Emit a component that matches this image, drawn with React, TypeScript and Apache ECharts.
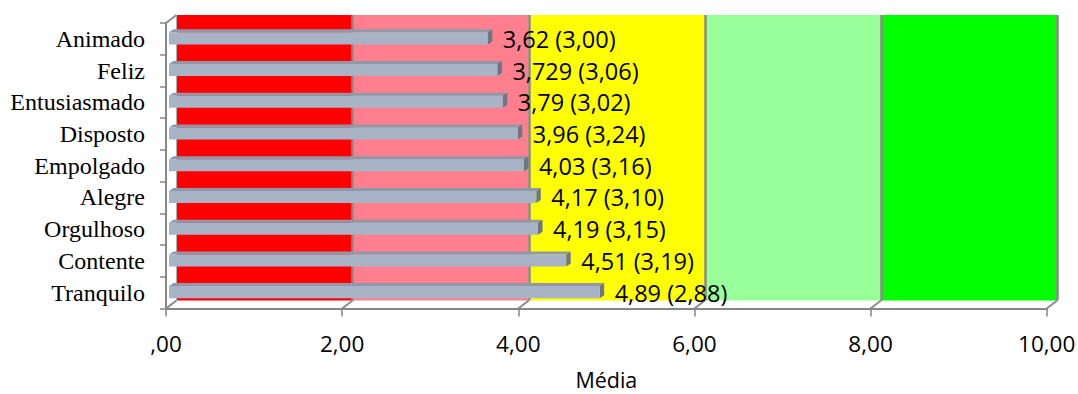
import React, { useEffect, useRef } from "react";
import * as echarts from "echarts";

const categories = ["Animado", "Feliz", "Entusiasmado", "Disposto", "Empolgado", "Alegre", "Orgulhoso", "Contente", "Tranquilo"];
const means = [3.62, 3.729, 3.79, 3.96, 4.03, 4.17, 4.19, 4.51, 4.89];
const sds = [3.0, 3.06, 3.02, 3.24, 3.16, 3.1, 3.15, 3.19, 2.88];
const xTicks = [0, 2, 4, 6, 8, 10];
const bands = [
  { from: 0, to: 2, color: "#FF0000" },
  { from: 2, to: 4, color: "#FF7F8E" },
  { from: 4, to: 6, color: "#FFFF00" },
  { from: 6, to: 8, color: "#99FF99" },
  { from: 8, to: 10, color: "#00FF00" },
];

const W = 1078;
const H = 394;
const FRONT = { left: 166, top: 23, width: 880.7, height: 285.5 };
const DX = 10.5;
const DY = 8;
const AXIS_GRAY = "#868686";

const fmt = (v: number) => (v === 0 ? ",00" : v.toFixed(2).replace(".", ","));

export default function App() {
  const ref = useRef<HTMLDivElement>(null);
  useEffect(() => {
    if (!ref.current) return;
    const chart = echarts.init(ref.current, null, { renderer: "svg" });
    const backGrid = {
      left: FRONT.left + DX,
      top: FRONT.top - DY,
      width: FRONT.width,
      height: FRONT.height,
      containLabel: false,
      outerBoundsMode: "none",
    };
    const option: any = {
      animation: false,
      backgroundColor: "#FFFFFF",
      grid: [
        {
          left: FRONT.left,
          top: FRONT.top,
          width: FRONT.width,
          height: FRONT.height,
          containLabel: false,
          outerBoundsMode: "none",
        },
        backGrid,
      ],
      xAxis: [
        {
          type: "value",
          gridIndex: 0,
          min: 0,
          max: 10,
          interval: 2,
          axisLine: { show: true, lineStyle: { color: AXIS_GRAY, width: 2 } },
          axisTick: { show: true, length: 8, lineStyle: { color: AXIS_GRAY, width: 1.5 } },
          splitLine: { show: false },
          axisLabel: {
            formatter: fmt,
            fontFamily: "Open Sans",
            fontSize: 22.5,
            color: "#000",
            margin: 23,
            showMinLabel: true,
            showMaxLabel: true,
          },
          name: "Média",
          nameLocation: "middle",
          nameGap: 61,
          nameTextStyle: { fontFamily: "Open Sans", fontSize: 21.5, lineHeight: 20, color: "#000" },
          z: 5,
        },
        {
          type: "value",
          gridIndex: 1,
          min: 0,
          max: 10,
          interval: 2,
          axisLine: { show: false },
          axisTick: { show: false },
          axisLabel: { show: false },
          splitLine: { show: true, showMinLine: false, lineStyle: { color: "#8A8A8A", width: 2.5 } },
          z: 3,
        },
      ],
      yAxis: [
        {
          type: "category",
          gridIndex: 0,
          data: categories,
          inverse: true,
          axisLine: { show: true, lineStyle: { color: AXIS_GRAY, width: 2 } },
          axisTick: { show: true, length: 6, interval: 0, alignWithLabel: false, lineStyle: { color: AXIS_GRAY, width: 1.5 } },
          axisLabel: {
            interval: 0,
            fontFamily: "Liberation Serif",
            fontSize: 24,
            color: "#000",
            margin: 21,
          },
          splitLine: { show: false },
          z: 5,
        },
        {
          type: "value",
          gridIndex: 1,
          min: 0,
          max: 1,
          show: false,
        },
      ],
      series: [
        {
          type: "line",
          xAxisIndex: 1,
          yAxisIndex: 1,
          data: [],
          z: 1,
          markArea: {
            silent: true,
            data: bands.map((b) => [
              { xAxis: b.from, itemStyle: { color: b.color } },
              { xAxis: b.to },
            ]),
          },
        },
        {
          type: "custom",
          xAxisIndex: 0,
          yAxisIndex: 0,
          z: 4,
          silent: true,
          data: xTicks.map((t) => [t, 0]),
          renderItem: (params: any, api: any) => {
            const cs = params.coordSys;
            const t = api.value(0);
            const px = api.coord([t, 0])[0];
            const yb = cs.y + cs.height;
            const children: any[] = [
              {
                type: "polyline",
                shape: { points: [[px, yb], [px + DX, yb - DY]] },
                style: { stroke: "#8A8A8A", lineWidth: 2, fill: null },
              },
            ];
            if (params.dataIndex === 0) {
              children.push({
                type: "polyline",
                shape: { points: [[cs.x, cs.y], [cs.x + DX, cs.y - DY]] },
                style: { stroke: "#8A8A8A", lineWidth: 2, fill: null },
              });
              children.push({
                type: "polyline",
                shape: { points: [[cs.x + DX, cs.y - DY], [cs.x + DX, yb - DY]] },
                style: { stroke: "#B0B0B0", lineWidth: 1, fill: null },
              });
            }
            return { type: "group", children };
          },
        },
        {
          type: "custom",
          xAxisIndex: 0,
          yAxisIndex: 0,
          z: 6,
          data: means.map((m, i) => [m, i, sds[i]]),
          renderItem: (params: any, api: any) => {
            const v = api.value(0);
            const idx = api.value(1);
            const sd = api.value(2);
            const end = api.coord([v, idx]);
            const start = api.coord([0, idx]);
            const band = api.size([0, 1])[1];
            const h = band * 0.38;
            const ox = 3;
            const oy = -0.5;
            const ddx = 4.5;
            const ddy = 3;
            const x0 = start[0] + ox;
            const x1 = end[0] + ox;
            const top = end[1] + oy - h / 2;
            const bottom = end[1] + oy + h / 2;
            const label = String(v).replace(".", ",") + " (" + Number(sd).toFixed(2).replace(".", ",") + ")";
            return {
              type: "group",
              children: [
                {
                  type: "polygon",
                  shape: { points: [[x0, top], [x1, top], [x1 + ddx, top - ddy], [x0 + ddx, top - ddy]] },
                  style: { fill: "#8F98A8" },
                },
                {
                  type: "polygon",
                  shape: { points: [[x1, top], [x1 + ddx, top - ddy], [x1 + ddx, bottom - ddy], [x1, bottom]] },
                  style: { fill: "#6E7684" },
                },
                {
                  type: "rect",
                  shape: { x: x0, y: top, width: x1 - x0, height: bottom - top },
                  style: { fill: "#A9B3C6" },
                },
                {
                  type: "text",
                  x: end[0] + 18,
                  y: end[1],
                  style: {
                    text: label,
                    fill: "#000",
                    fontSize: 23.5,
                    fontFamily: "Open Sans",
                    verticalAlign: "middle",
                    align: "left",
                  },
                },
              ],
            };
          },
        },
      ],
    };
    chart.setOption(option);
    return () => chart.dispose();
  }, []);
  return <div ref={ref} style={{ position: "absolute", left: 0, top: 0, width: W, height: H }} />;
}
